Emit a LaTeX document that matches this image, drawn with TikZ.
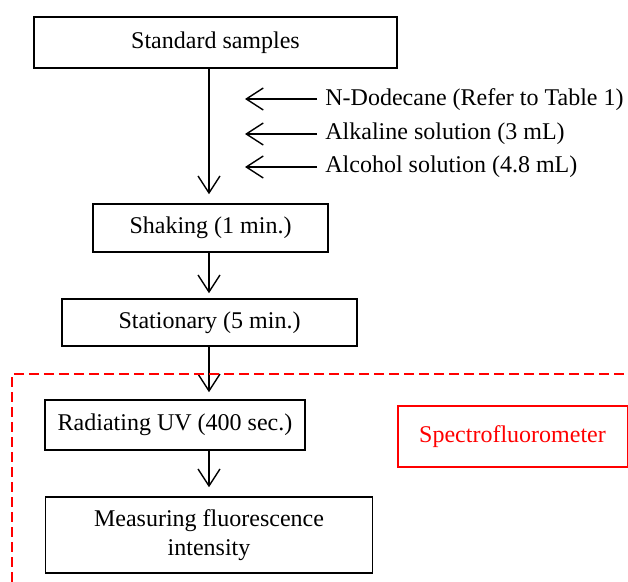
\documentclass[tikz,border=0pt]{standalone}
\usepackage{fontspec}
\setmainfont{Liberation Serif}
\usetikzlibrary{arrows.meta}
\begin{document}
\begin{tikzpicture}[x=0.5pt,y=-0.5pt,
  font=\fontsize{12}{14.5}\selectfont,
  box/.style={draw,line width=0.75pt,inner sep=0pt,align=center},
  arr/.style={line width=0.7pt,-{Straight Barb[length=8.5pt,width=11pt,line width=0.7pt]}},
  lbl/.style={anchor=west,inner sep=0pt}]
\useasboundingbox (0,0) rectangle (628,582);
\node[box,minimum width=181.5pt,minimum height=25.5pt] (b1) at (215.5,42.5) {Standard samples};
\node[box,minimum width=117.5pt,minimum height=24pt] (b2) at (210.5,228) {Shaking (1 min.)};
\node[box,minimum width=147.5pt,minimum height=23.5pt] (b3) at (209.5,322.5) {Stationary (5 min.)};
\node[box,minimum width=130pt,minimum height=25pt] (b4) at (175,425) {Radiating UV (400 sec.)};
\node[box,minimum width=163.5pt,minimum height=38pt] (b5) at (209,535) {Measuring fluorescence\\intensity};
\node[box,draw=red,text=red,line width=1pt,minimum width=115pt,minimum height=30.5pt] (spec) at (512.5,436.5) {Spectrofluorometer};
\node[lbl] (l1) at (325,100) {N-Dodecane (Refer to Table 1)};
\node[lbl] (l2) at (325,134) {Alkaline solution (3 mL)};
\node[lbl] (l3) at (325,167) {Alcohol solution (4.8 mL)};
\coordinate (t1) at (245,99);
\coordinate (t2) at (245,134);
\coordinate (t3) at (245,167);
\coordinate (s1) at (317,99);
\coordinate (s2) at (317,134);
\coordinate (s3) at (317,167);
\draw[arr] (s1) -- (t1);
\draw[arr] (s2) -- (t2);
\draw[arr] (s3) -- (t3);
\draw[arr,shorten >=4.5pt] (b1.south -| 209,0) -- (b2.north -| 209,0);
\draw[arr,shorten >=2.5pt] (b2.south -| 209,0) -- (b3.north -| 209,0);
\draw[arr,shorten >=3.5pt] (b3.south -| 209,0) -- (b4.north -| 209,0);
\draw[arr,shorten >=4.5pt] (b4.south -| 209,0) -- (b5.north -| 209,0);
\coordinate (d1) at (12,582);
\coordinate (d2) at (12,374);
\coordinate (d3) at (628,374);
\draw[red,line width=1pt,dash pattern=on 5pt off 2.5pt] (d1) -- (d2) -- (d3);
\end{tikzpicture}
\end{document}
